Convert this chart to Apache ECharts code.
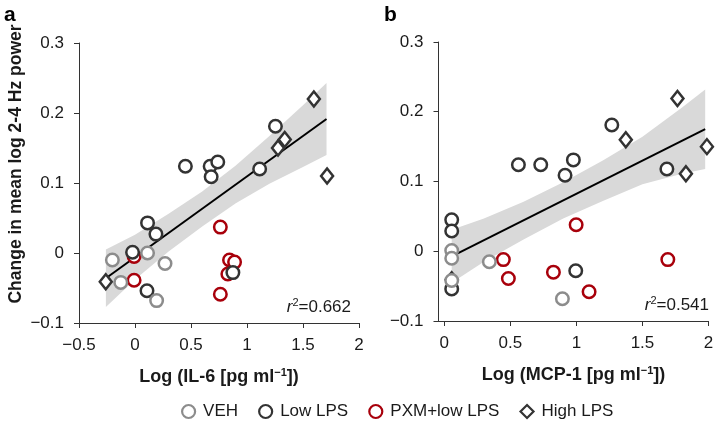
<!DOCTYPE html>
<html>
<head>
<meta charset="utf-8">
<script src="https://cdn.jsdelivr.net/npm/echarts@6/dist/echarts.min.js"></script>
<style>
  html, body { margin: 0; padding: 0; background: #fff; }
  #chart { width: 721px; height: 421px; }
</style>
</head>
<body>
<div id="chart"></div>
<script>
// ---- data ----
// panel a : x = log IL-6
var vehA  = [[-0.202, -0.010], [-0.127, -0.042], [0.112, 0.000], [0.268, -0.015], [0.193, -0.068]];
var lowA  = [[0.112, 0.043], [0.187, 0.027], [-0.022, 0.001], [0.107, -0.054], [0.45, 0.124],
             [0.671, 0.124], [0.739, 0.130], [0.68, 0.109], [1.113, 0.120], [1.254, 0.181], [0.874, -0.028]];
var pxmA  = [[0.762, 0.037], [0.844, -0.010], [0.889, -0.013], [0.829, -0.030], [0.762, -0.059],
             [-0.008, -0.005], [-0.008, -0.039]];
var highA = [[-0.261, -0.041], [1.277, 0.150], [1.337, 0.162], [1.597, 0.220], [1.715, 0.110]];
var fitA  = [[-0.26, -0.036], [1.71, 0.1915]];
var bandAx  = [-0.26, 0, 0.3, 0.6, 0.9, 1.2, 1.5, 1.71];
var bandAHi = [0.005, 0.026, 0.056, 0.088, 0.125, 0.167, 0.211, 0.243];
var bandALo = [-0.077, -0.038, 0.002, 0.038, 0.071, 0.099, 0.123, 0.140];

// panel b : x = log MCP-1
var vehB  = [[0.056, 0.001], [0.056, -0.010], [0.056, -0.042], [0.341, -0.015], [0.894, -0.068]];
var lowB  = [[0.056, 0.045], [0.056, 0.029], [0.056, -0.054], [0.561, 0.124], [0.730, 0.124],
             [0.914, 0.109], [0.977, 0.131], [1.268, 0.181], [1.685, 0.118], [0.995, -0.028]];
var pxmB  = [[0.447, -0.012], [0.485, -0.039], [0.826, -0.030], [0.998, 0.038], [1.096, -0.058], [1.692, -0.012]];
var highB = [[0.056, -0.041], [1.374, 0.160], [1.765, 0.219], [1.829, 0.111], [1.988, 0.150]];
var fitB  = [[0.056, -0.0074], [1.975, 0.175]];
var bandBx  = [0.056, 0.3, 0.6, 0.9, 1.2, 1.5, 1.8, 1.975];
var bandBHi = [0.031, 0.047, 0.071, 0.099, 0.130, 0.164, 0.206, 0.232];
var bandBLo = [-0.045, -0.015, 0.017, 0.047, 0.072, 0.096, 0.111, 0.118];

var xTicksA = [-0.5, 0, 0.5, 1, 1.5, 2];
var xTicksB = [0, 0.5, 1, 1.5, 2];
var yTicks  = [-0.1, 0, 0.1, 0.2, 0.3];
var groups  = ['VEH', 'Low LPS', 'PXM+low LPS', 'High LPS'];
var r2Text  = ['0.662', '0.541'];

var FONT = "'Liberation Sans', Arial, sans-serif";
var INK = '#1a1a1a';
var COLORS = { 'VEH': '#8c8c8c', 'Low LPS': '#333333', 'PXM+low LPS': '#a8000b', 'High LPS': '#333333' };

function fmt(v) { return v < 0 ? '\u2212' + Math.abs(v) : String(v); }

var chart = echarts.init(document.getElementById('chart'));

function xAxis(idx, min, ticks, title) {
    return {
        gridIndex: idx, type: 'value', min: min, max: 2,
        splitLine: { show: false },
        axisLine: { onZero: false, lineStyle: { color: '#333', width: 1 } },
        axisTick: { show: true, length: 5, customValues: ticks, lineStyle: { color: '#333' } },
        axisLabel: { customValues: ticks, formatter: fmt, margin: 14, fontSize: 17, color: INK, fontFamily: FONT },
        name: title, nameLocation: 'middle', nameGap: 44,
        nameTextStyle: {
            fontSize: 18, fontWeight: 'bold', color: INK, fontFamily: FONT,
            rich: { s: { fontSize: 11, fontWeight: 'bold', fontFamily: FONT, color: INK, verticalAlign: 'top', padding: [0, 0, 9, 0] } }
        }
    };
}
function yAxis(idx) {
    return {
        gridIndex: idx, type: 'value', min: -0.1, max: 0.3,
        splitLine: { show: false },
        axisLine: { show: true, onZero: false, lineStyle: { color: '#333', width: 1 } },
        axisTick: { show: true, length: 5, customValues: yTicks, lineStyle: { color: '#333' } },
        axisLabel: { customValues: yTicks, formatter: fmt, margin: 15, fontSize: 17, color: INK, fontFamily: FONT }
    };
}

function band(idx, xs, hi, lo) {
    return {
        type: 'custom', xAxisIndex: idx, yAxisIndex: idx, silent: true, z: 1,
        data: [[xs[0], hi[0]]],
        renderItem: function (params, api) {
            var pts = [];
            for (var i = 0; i < xs.length; i++) pts.push(api.coord([xs[i], hi[i]]));
            for (var j = xs.length - 1; j >= 0; j--) pts.push(api.coord([xs[j], lo[j]]));
            return { type: 'polygon', shape: { points: pts }, style: { fill: '#d9d9d9' } };
        }
    };
}
function fit(idx, data) {
    return {
        type: 'line', xAxisIndex: idx, yAxisIndex: idx, data: data, silent: true, z: 2,
        showSymbol: false, lineStyle: { color: '#000', width: 2 }
    };
}
function pts(idx, name, data) {
    var diamond = name === 'High LPS';
    return {
        type: 'scatter', name: name, xAxisIndex: idx, yAxisIndex: idx, data: data, z: 3,
        symbol: diamond ? 'diamond' : 'circle',
        symbolSize: diamond ? [12, 15] : 12.5,
        itemStyle: { color: '#fff', borderColor: COLORS[name], borderWidth: 2.5, opacity: 1 },
        emphasis: { disabled: true }, silent: true
    };
}

var option = {
    animation: false,
    backgroundColor: '#fff',
    textStyle: { fontFamily: FONT },
    grid: [
        { left: 79, top: 43, width: 280, height: 280 },
        { left: 438.5, top: 42, width: 270, height: 279 }
    ],
    xAxis: [
        xAxis(0, -0.5, xTicksA, 'Log (IL-6 [pg ml{s|\u22121}])'),
        xAxis(1, -0.044, xTicksB, 'Log (MCP-1 [pg ml{s|\u22121}])')
    ],
    yAxis: [yAxis(0), yAxis(1)],
    legend: {
        left: 176, top: 398, itemWidth: 13, itemHeight: 13, itemGap: 20, selectedMode: false,
        textStyle: { fontSize: 17, color: INK, fontFamily: FONT, padding: [0, 0, 0, 3] },
        data: groups.map(function (g) {
            return {
                name: g, icon: g === 'High LPS' ? 'diamond' : 'circle',
                itemStyle: { color: '#fff', borderColor: COLORS[g], borderWidth: 2.2 }
            };
        })
    },
    graphic: [
        { type: 'text', x: 4, y: 15, style: { text: 'a', fontSize: 21, fontWeight: 'bold', fontFamily: FONT, fill: '#000', verticalAlign: 'middle' } },
        { type: 'text', x: 384, y: 15, style: { text: 'b', fontSize: 21, fontWeight: 'bold', fontFamily: FONT, fill: '#000', verticalAlign: 'middle' } },
        { type: 'text', x: 16, y: 164, rotation: Math.PI / 2,
          style: { text: 'Change in mean log 2-4 Hz power', fontSize: 17.5, fontWeight: 'bold', fontFamily: FONT, fill: INK, align: 'center', verticalAlign: 'middle' } },
        { type: 'text', x: 351, y: 307,
          style: { text: '{i|r}{s|2}=' + r2Text[0], fontSize: 17, fontFamily: FONT, fill: INK, align: 'right', verticalAlign: 'middle',
                   rich: { i: { fontStyle: 'italic', fontSize: 17, fontFamily: FONT }, s: { fontSize: 11, fontFamily: FONT, verticalAlign: 'top', padding: [0, 0, 9, 0] } } } },
        { type: 'text', x: 709, y: 305,
          style: { text: '{i|r}{s|2}=' + r2Text[1], fontSize: 17, fontFamily: FONT, fill: INK, align: 'right', verticalAlign: 'middle',
                   rich: { i: { fontStyle: 'italic', fontSize: 17, fontFamily: FONT }, s: { fontSize: 11, fontFamily: FONT, verticalAlign: 'top', padding: [0, 0, 9, 0] } } } }
    ],
    series: [
        band(0, bandAx, bandAHi, bandALo),
        fit(0, fitA),
        pts(0, 'High LPS', highA),
        pts(0, 'PXM+low LPS', pxmA),
        pts(0, 'Low LPS', lowA),
        pts(0, 'VEH', vehA),
        band(1, bandBx, bandBHi, bandBLo),
        fit(1, fitB),
        pts(1, 'High LPS', highB),
        pts(1, 'PXM+low LPS', pxmB),
        pts(1, 'Low LPS', lowB),
        pts(1, 'VEH', vehB)
    ]
};

chart.setOption(option);
</script>
</body>
</html>
